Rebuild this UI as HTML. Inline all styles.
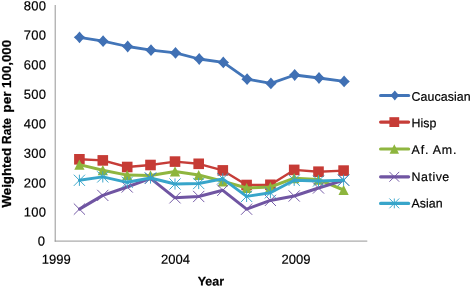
<!DOCTYPE html>
<html lang="en">
<head>
<meta charset="utf-8">
<title>Weighted Rate per 100,000 by Year</title>
<style>
html,body{margin:0;padding:0;background:#fff;}
body{width:472px;height:287px;overflow:hidden;}
svg{display:block;font-family:"Liberation Sans",sans-serif;}
</style>
</head>
<body>
<svg width="472" height="287" viewBox="0 0 472 287">
<defs><filter id="soft" x="0" y="0" width="472" height="287" filterUnits="userSpaceOnUse"><feGaussianBlur stdDeviation="0.38"/></filter></defs>
<rect width="472" height="287" fill="#fff"/>
<g id="chart" filter="url(#soft)">
<g id="axes" stroke="#8a8a8a" stroke-width="0.9" fill="none">
<path d="M55.2,5 L55.2,241.6 M54.7,241.1 L367.3,241.1"/>
</g>
<g id="ylabels" font-size="13" text-anchor="end" fill="#000" letter-spacing="0.3" stroke="#000" stroke-width="0.2">
<text x="45.4" y="245.5" transform="rotate(0.03 45.4 246)">0</text>
<text x="46.4" y="216.6" transform="rotate(0.03 46.4 217)">100</text>
<text x="46.4" y="187.6" transform="rotate(0.03 46.4 188)">200</text>
<text x="46.4" y="157.8" transform="rotate(0.03 46.4 158)">300</text>
<text x="46.4" y="128.2" transform="rotate(0.03 46.4 128)">400</text>
<text x="46.4" y="98.85" transform="rotate(0.03 46.4 99)">500</text>
<text x="46.4" y="69.35" transform="rotate(0.03 46.4 69)">600</text>
<text x="46.4" y="39.6" transform="rotate(0.03 46.4 40)">700</text>
<text x="46.4" y="10.15" transform="rotate(0.03 46.4 10)">800</text>
</g>
<g id="xlabels" font-size="13" text-anchor="middle" fill="#000" stroke="#000" stroke-width="0.2">
<text x="56.3" y="263.7" transform="rotate(0.03 56.3 264)">1999</text>
<text x="175.5" y="263.7" transform="rotate(0.03 175.5 264)">2004</text>
<text x="296" y="263.7" transform="rotate(0.03 296 264)">2009</text>
</g>
<text x="210.9" y="285.4" font-size="12.5" font-weight="bold" text-anchor="middle" stroke="#000" stroke-width="0.2" transform="rotate(0.03 211 285)">Year</text>
<text transform="translate(10.8,0) rotate(-90)" font-size="12" font-weight="bold" y="0" stroke="#000" stroke-width="0.25"><tspan x="-207.5" textLength="59.5" lengthAdjust="spacingAndGlyphs">Weighted</tspan> <tspan x="-143.9" textLength="25.9" lengthAdjust="spacingAndGlyphs">Rate</tspan> <tspan x="-112.7" textLength="21.3" lengthAdjust="spacingAndGlyphs">per</tspan> <tspan x="-87.9" textLength="48.0" lengthAdjust="spacingAndGlyphs">100,000</tspan></text>
<g id="s-Caucasian">
<polyline points="79.5,37.3 103.1,41.2 127.7,46.5 151.0,50.2 175.5,52.9 199.2,59.0 223.3,62.4 247.1,79.2 270.9,83.4 294.7,75.0 319.0,78.0 344.1,81.4" fill="none" stroke="#4274B8" stroke-width="2.8" stroke-linejoin="round" stroke-linecap="round"/>
<path d="M73.78,37.30 Q76.98,34.70 79.50,31.40 Q82.02,34.70 85.22,37.30 Q82.02,39.90 79.50,43.20 Q76.98,39.90 73.78,37.30Z" fill="#3F70B4"/>
<path d="M97.38,41.20 Q100.58,38.60 103.10,35.30 Q105.62,38.60 108.82,41.20 Q105.62,43.80 103.10,47.10 Q100.58,43.80 97.38,41.20Z" fill="#3F70B4"/>
<path d="M121.98,46.50 Q125.18,43.90 127.70,40.60 Q130.22,43.90 133.42,46.50 Q130.22,49.10 127.70,52.40 Q125.18,49.10 121.98,46.50Z" fill="#3F70B4"/>
<path d="M145.28,50.20 Q148.48,47.60 151.00,44.30 Q153.52,47.60 156.72,50.20 Q153.52,52.80 151.00,56.10 Q148.48,52.80 145.28,50.20Z" fill="#3F70B4"/>
<path d="M169.78,52.90 Q172.98,50.30 175.50,47.00 Q178.02,50.30 181.22,52.90 Q178.02,55.50 175.50,58.80 Q172.98,55.50 169.78,52.90Z" fill="#3F70B4"/>
<path d="M193.48,59.00 Q196.68,56.40 199.20,53.10 Q201.72,56.40 204.92,59.00 Q201.72,61.60 199.20,64.90 Q196.68,61.60 193.48,59.00Z" fill="#3F70B4"/>
<path d="M217.58,62.40 Q220.78,59.80 223.30,56.50 Q225.82,59.80 229.02,62.40 Q225.82,65.00 223.30,68.30 Q220.78,65.00 217.58,62.40Z" fill="#3F70B4"/>
<path d="M241.38,79.20 Q244.58,76.60 247.10,73.30 Q249.62,76.60 252.82,79.20 Q249.62,81.80 247.10,85.10 Q244.58,81.80 241.38,79.20Z" fill="#3F70B4"/>
<path d="M265.18,83.40 Q268.38,80.80 270.90,77.50 Q273.42,80.80 276.62,83.40 Q273.42,86.00 270.90,89.30 Q268.38,86.00 265.18,83.40Z" fill="#3F70B4"/>
<path d="M288.98,75.00 Q292.18,72.40 294.70,69.10 Q297.22,72.40 300.42,75.00 Q297.22,77.60 294.70,80.90 Q292.18,77.60 288.98,75.00Z" fill="#3F70B4"/>
<path d="M313.28,78.00 Q316.48,75.40 319.00,72.10 Q321.52,75.40 324.72,78.00 Q321.52,80.60 319.00,83.90 Q316.48,80.60 313.28,78.00Z" fill="#3F70B4"/>
<path d="M338.38,81.40 Q341.58,78.80 344.10,75.50 Q346.62,78.80 349.82,81.40 Q346.62,84.00 344.10,87.30 Q341.58,84.00 338.38,81.40Z" fill="#3F70B4"/>
</g>
<g id="s-Hisp">
<polyline points="79.4,159.3 102.8,160.4 127.2,167.0 150.5,165.0 175.0,161.6 198.7,163.8 222.8,170.4 246.6,185.0 270.4,184.8 294.2,169.9 318.5,171.7 343.6,170.6" fill="none" stroke="#C63E39" stroke-width="2.4" stroke-linejoin="round" stroke-linecap="round"/>
<rect x="74.1" y="154.0" width="10.6" height="10.6" fill="#C63A35"/>
<rect x="97.5" y="155.1" width="10.6" height="10.6" fill="#C63A35"/>
<rect x="121.9" y="161.7" width="10.6" height="10.6" fill="#C63A35"/>
<rect x="145.2" y="159.7" width="10.6" height="10.6" fill="#C63A35"/>
<rect x="169.7" y="156.3" width="10.6" height="10.6" fill="#C63A35"/>
<rect x="193.4" y="158.5" width="10.6" height="10.6" fill="#C63A35"/>
<rect x="217.5" y="165.1" width="10.6" height="10.6" fill="#C63A35"/>
<rect x="241.3" y="179.7" width="10.6" height="10.6" fill="#C63A35"/>
<rect x="265.1" y="179.5" width="10.6" height="10.6" fill="#C63A35"/>
<rect x="288.9" y="164.6" width="10.6" height="10.6" fill="#C63A35"/>
<rect x="313.2" y="166.4" width="10.6" height="10.6" fill="#C63A35"/>
<rect x="338.3" y="165.3" width="10.6" height="10.6" fill="#C63A35"/>
</g>
<g id="s-Af">
<polyline points="79.4,164.6 102.8,170.2 127.2,175.1 150.5,175.4 175.0,171.4 198.7,175.0 222.8,181.3 246.6,188.0 270.4,187.0 294.2,178.2 318.5,179.6 343.6,190.0" fill="none" stroke="#8FB63F" stroke-width="3.0" stroke-linejoin="round" stroke-linecap="round"/>
<path d="M74.3,169.7 L79.4,159.5 L84.5,169.7Z" fill="#8DB53C"/>
<path d="M97.7,175.3 L102.8,165.1 L107.9,175.3Z" fill="#8DB53C"/>
<path d="M122.1,180.2 L127.2,170.0 L132.3,180.2Z" fill="#8DB53C"/>
<path d="M145.4,180.5 L150.5,170.3 L155.6,180.5Z" fill="#8DB53C"/>
<path d="M169.9,176.5 L175.0,166.3 L180.1,176.5Z" fill="#8DB53C"/>
<path d="M193.6,180.1 L198.7,169.9 L203.8,180.1Z" fill="#8DB53C"/>
<path d="M217.7,186.4 L222.8,176.2 L227.9,186.4Z" fill="#8DB53C"/>
<path d="M241.5,193.1 L246.6,182.9 L251.7,193.1Z" fill="#8DB53C"/>
<path d="M265.3,192.1 L270.4,181.9 L275.5,192.1Z" fill="#8DB53C"/>
<path d="M289.1,183.3 L294.2,173.1 L299.3,183.3Z" fill="#8DB53C"/>
<path d="M313.4,184.7 L318.5,174.5 L323.6,184.7Z" fill="#8DB53C"/>
<path d="M338.5,195.1 L343.6,184.9 L348.7,195.1Z" fill="#8DB53C"/>
</g>
<g id="s-Native">
<polyline points="79.4,209.1 102.8,195.4 127.2,187.0 150.5,178.3 175.0,197.8 198.7,196.5 222.8,190.3 246.6,209.2 270.4,200.4 294.2,196.0 318.5,188.0 343.6,180.2" fill="none" stroke="#7055A2" stroke-width="3.0" stroke-linejoin="round" stroke-linecap="round"/>
<path d="M73.8,203.5 L85.0,214.7 M73.8,214.7 L85.0,203.5" stroke="#6F53A2" stroke-width="0.95" fill="none"/>
<path d="M97.2,189.8 L108.4,201.0 M97.2,201.0 L108.4,189.8" stroke="#6F53A2" stroke-width="0.95" fill="none"/>
<path d="M121.6,181.4 L132.8,192.6 M121.6,192.6 L132.8,181.4" stroke="#6F53A2" stroke-width="0.95" fill="none"/>
<path d="M144.9,172.7 L156.1,183.9 M144.9,183.9 L156.1,172.7" stroke="#6F53A2" stroke-width="0.95" fill="none"/>
<path d="M169.4,192.2 L180.6,203.4 M169.4,203.4 L180.6,192.2" stroke="#6F53A2" stroke-width="0.95" fill="none"/>
<path d="M193.1,190.9 L204.3,202.1 M193.1,202.1 L204.3,190.9" stroke="#6F53A2" stroke-width="0.95" fill="none"/>
<path d="M217.2,184.7 L228.4,195.9 M217.2,195.9 L228.4,184.7" stroke="#6F53A2" stroke-width="0.95" fill="none"/>
<path d="M241.0,203.6 L252.2,214.8 M241.0,214.8 L252.2,203.6" stroke="#6F53A2" stroke-width="0.95" fill="none"/>
<path d="M264.8,194.8 L276.0,206.0 M264.8,206.0 L276.0,194.8" stroke="#6F53A2" stroke-width="0.95" fill="none"/>
<path d="M288.6,190.4 L299.8,201.6 M288.6,201.6 L299.8,190.4" stroke="#6F53A2" stroke-width="0.95" fill="none"/>
<path d="M312.9,182.4 L324.1,193.6 M312.9,193.6 L324.1,182.4" stroke="#6F53A2" stroke-width="0.95" fill="none"/>
<path d="M338.0,174.6 L349.2,185.8 M338.0,185.8 L349.2,174.6" stroke="#6F53A2" stroke-width="0.95" fill="none"/>
</g>
<g id="s-Asian">
<polyline points="79.4,180.3 102.8,176.9 127.2,182.3 150.5,178.0 175.0,184.0 198.7,183.5 222.8,178.8 246.6,196.4 270.4,192.8 294.2,180.3 318.5,181.0 343.6,180.2" fill="none" stroke="#37A5CA" stroke-width="2.9" stroke-linejoin="round" stroke-linecap="round"/>
<path d="M73.8,174.7 L85.0,185.9 M73.8,185.9 L85.0,174.7" stroke="#35A3C9" stroke-width="0.95" fill="none"/><path d="M79.4,174.7 L79.4,185.9" stroke="#35A3C9" stroke-width="0.95" fill="none"/>
<path d="M97.2,171.3 L108.4,182.5 M97.2,182.5 L108.4,171.3" stroke="#35A3C9" stroke-width="0.95" fill="none"/><path d="M102.8,171.3 L102.8,182.5" stroke="#35A3C9" stroke-width="0.95" fill="none"/>
<path d="M121.6,176.7 L132.8,187.9 M121.6,187.9 L132.8,176.7" stroke="#35A3C9" stroke-width="0.95" fill="none"/><path d="M127.2,176.7 L127.2,187.9" stroke="#35A3C9" stroke-width="0.95" fill="none"/>
<path d="M144.9,172.4 L156.1,183.6 M144.9,183.6 L156.1,172.4" stroke="#35A3C9" stroke-width="0.95" fill="none"/><path d="M150.5,172.4 L150.5,183.6" stroke="#35A3C9" stroke-width="0.95" fill="none"/>
<path d="M169.4,178.4 L180.6,189.6 M169.4,189.6 L180.6,178.4" stroke="#35A3C9" stroke-width="0.95" fill="none"/><path d="M175.0,178.4 L175.0,189.6" stroke="#35A3C9" stroke-width="0.95" fill="none"/>
<path d="M193.1,177.9 L204.3,189.1 M193.1,189.1 L204.3,177.9" stroke="#35A3C9" stroke-width="0.95" fill="none"/><path d="M198.7,177.9 L198.7,189.1" stroke="#35A3C9" stroke-width="0.95" fill="none"/>
<path d="M217.2,173.2 L228.4,184.4 M217.2,184.4 L228.4,173.2" stroke="#35A3C9" stroke-width="0.95" fill="none"/><path d="M222.8,173.2 L222.8,184.4" stroke="#35A3C9" stroke-width="0.95" fill="none"/>
<path d="M241.0,190.8 L252.2,202.0 M241.0,202.0 L252.2,190.8" stroke="#35A3C9" stroke-width="0.95" fill="none"/><path d="M246.6,190.8 L246.6,202.0" stroke="#35A3C9" stroke-width="0.95" fill="none"/>
<path d="M264.8,187.2 L276.0,198.4 M264.8,198.4 L276.0,187.2" stroke="#35A3C9" stroke-width="0.95" fill="none"/><path d="M270.4,187.2 L270.4,198.4" stroke="#35A3C9" stroke-width="0.95" fill="none"/>
<path d="M288.6,174.7 L299.8,185.9 M288.6,185.9 L299.8,174.7" stroke="#35A3C9" stroke-width="0.95" fill="none"/><path d="M294.2,174.7 L294.2,185.9" stroke="#35A3C9" stroke-width="0.95" fill="none"/>
<path d="M312.9,175.4 L324.1,186.6 M312.9,186.6 L324.1,175.4" stroke="#35A3C9" stroke-width="0.95" fill="none"/><path d="M318.5,175.4 L318.5,186.6" stroke="#35A3C9" stroke-width="0.95" fill="none"/>
<path d="M338.0,174.6 L349.2,185.8 M338.0,185.8 L349.2,174.6" stroke="#35A3C9" stroke-width="0.95" fill="none"/><path d="M343.6,174.6 L343.6,185.8" stroke="#35A3C9" stroke-width="0.95" fill="none"/>
</g>
<g id="legend" font-size="12.4" fill="#000">
<path d="M380.6,95.5 L408.6,95.5" stroke="#4274B8" stroke-width="3.2" stroke-linecap="round"/>
<path d="M390.05,95.50 Q392.71,93.34 394.80,90.60 Q396.89,93.34 399.55,95.50 Q396.89,97.66 394.80,100.40 Q392.71,97.66 390.05,95.50Z" fill="#3F70B4"/>
<text x="411.6" y="100.8" letter-spacing="0.06" stroke="#000" stroke-width="0.2" transform="rotate(0.03 412 101)">Caucasian</text>
<path d="M380.6,122.1 L408.6,122.1" stroke="#C63E39" stroke-width="3.2" stroke-linecap="round"/>
<rect x="389.4" y="117.2" width="9.8" height="9.8" fill="#C63A35"/>
<text x="411.6" y="127.3" letter-spacing="0" stroke="#000" stroke-width="0.2" transform="rotate(0.03 412 127)">Hisp</text>
<path d="M380.6,149.0 L408.6,149.0" stroke="#8FB63F" stroke-width="3.2" stroke-linecap="round"/>
<path d="M389.6,153.7 L394.3,144.3 L399.0,153.7Z" fill="#8DB53C"/>
<text x="411.6" y="153.9" letter-spacing="0.8" stroke="#000" stroke-width="0.2" transform="rotate(0.03 412 154)">Af. Am.</text>
<path d="M380.6,176.8 L408.6,176.8" stroke="#7055A2" stroke-width="3.2" stroke-linecap="round"/>
<path d="M389.4,171.9 L399.2,181.7 M389.4,181.7 L399.2,171.9" stroke="#6F53A2" stroke-width="0.95" fill="none"/>
<text x="411.6" y="180.9" letter-spacing="0.5" stroke="#000" stroke-width="0.2" transform="rotate(0.03 412 181)">Native</text>
<path d="M380.6,203.4 L408.6,203.4" stroke="#37A5CA" stroke-width="3.2" stroke-linecap="round"/>
<path d="M389.4,198.5 L399.2,208.3 M389.4,208.3 L399.2,198.5" stroke="#35A3C9" stroke-width="0.95" fill="none"/><path d="M394.3,198.5 L394.3,208.3" stroke="#35A3C9" stroke-width="0.95" fill="none"/>
<text x="411.6" y="207.6" letter-spacing="0" stroke="#000" stroke-width="0.2" transform="rotate(0.03 412 208)">Asian</text>
</g>
</g>
</svg>
</body>
</html>
